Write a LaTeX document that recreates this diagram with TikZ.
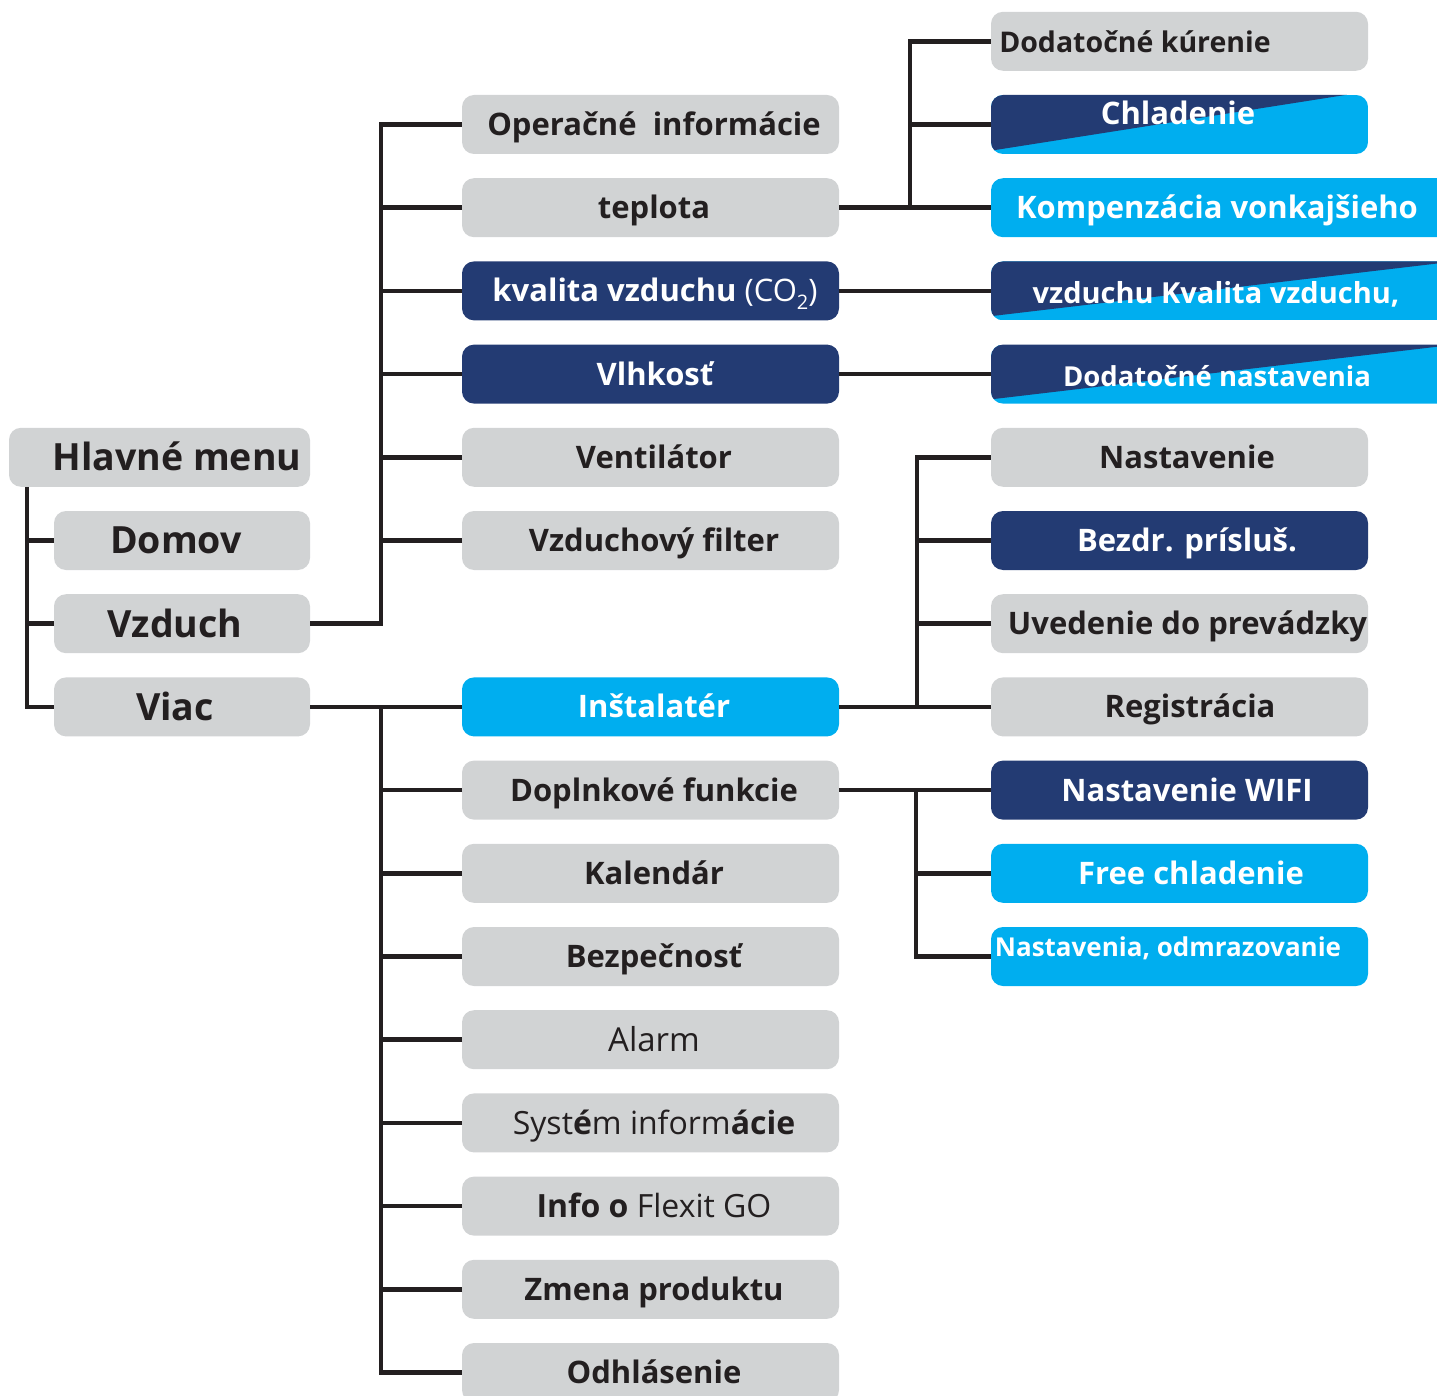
\documentclass[tikz,border=0pt]{standalone}
\usepackage{fontspec}
\setmainfont{Open Sans}
\usetikzlibrary{calc}
\definecolor{boxgray}{HTML}{D1D3D4}
\definecolor{navy}{HTML}{233B73}
\definecolor{cyanb}{HTML}{00AEEF}
\definecolor{linec}{HTML}{231F20}
\tikzset{
  conn/.style={draw=linec, line width=4.5pt},
  mbox/.style={rounded corners=12pt, minimum height=59pt, inner sep=0pt, outer sep=0pt},
  wmid/.style={mbox, minimum width=377pt},
  wright/.style={mbox, minimum width=377pt},
  wwide/.style={mbox, minimum width=469pt},
  wleft/.style={mbox, minimum width=256pt},
  gbox/.style={fill=boxgray},
  nbox/.style={fill=navy},
  cbox/.style={fill=cyanb},
  txt/.style={font=\bfseries\fontsize{#1}{#1}\selectfont, anchor=base, inner sep=0pt, yshift={-0.357*#1}},
  rtxt/.style={txt=#1, font=\mdseries\fontsize{#1}{#1}\selectfont},
  dk/.style={text=linec},
  wh/.style={text=white},
}
\newcommand\splitfill[3]{% node name, extra right reach, bottom lift
  \begin{scope}
    \clip[rounded corners=12pt] (#1.south west) rectangle (#1.north east);
    \fill[cyanb] (#1.south west) rectangle (#1.north east);
    \fill[navy] ($(#1.south west)+(-2,-#3)$) -- ($(#1.north west)+(-2,-2)$) -- ($(#1.north east)+(#2,-2)$) -- cycle;
  \end{scope}}
\begin{document}
\begin{tikzpicture}[x=1pt,y=-1pt]
\useasboundingbox (0,0) rectangle (1437,1396);
\clip (0,0) rectangle (1437,1396);

% ---- main menu column
\node[mbox, minimum width=301pt, gbox] (hm) at (159.5,457.3) {};
\node[wleft, gbox] (domov)  at (182,540.5) {};
\node[wleft, gbox] (vzduch) at (182,623.7) {};
\node[wleft, gbox] (viac)   at (182,706.9) {};

% ---- second level
\node[wmid, gbox] (opinf)   at (650.5,124.5) {};
\node[wmid, gbox] (teplota) at (650.5,207.7) {};
\node[wmid, nbox] (kval)    at (650.5,290.9) {};
\node[wmid, nbox] (vlhk)    at (650.5,374.1) {};
\node[wmid, gbox] (vent)    at (650.5,457.3) {};
\node[wmid, gbox] (filt)    at (650.5,540.5) {};
\node[wmid, cbox] (inst)    at (650.5,706.9) {};
\node[wmid, gbox] (dopl)    at (650.5,790.1) {};
\node[wmid, gbox] (kal)     at (650.5,873.3) {};
\node[wmid, gbox] (bezp)    at (650.5,956.5) {};
\node[wmid, gbox] (alarm)   at (650.5,1039.7) {};
\node[wmid, gbox] (sysinf)  at (650.5,1122.9) {};
\node[wmid, gbox] (info)    at (650.5,1206.1) {};
\node[wmid, gbox] (zmena)   at (650.5,1289.3) {};
\node[wmid, gbox] (odhl)    at (650.5,1372.5) {};

% ---- third level
\node[wright, gbox] (dkur)  at (1179.5,41.3) {};
\node[wright] (chlad)       at (1179.5,124.5) {};
\splitfill{chlad}{-10}{3}
\node[wwide, cbox] (komp)   at (1225.5,207.7) {};
\node[wwide] (vzk)          at (1225.5,290.9) {};
\splitfill{vzk}{12}{4}
\node[wwide] (dnast)        at (1225.5,374.1) {};
\splitfill{dnast}{12}{4}
\node[wright, gbox] (nast)  at (1179.5,457.3) {};
\node[wright, nbox] (bezdr) at (1179.5,540.5) {};
\node[wright, gbox] (uved)  at (1179.5,623.7) {};
\node[wright, gbox] (reg)   at (1179.5,706.9) {};
\node[wright, nbox] (wifi)  at (1179.5,790.1) {};
\node[wright, cbox] (free)  at (1179.5,873.3) {};
\node[wright, cbox] (odmr)  at (1179.5,956.5) {};

% ---- connectors
\coordinate (lb) at ($(hm.south west)+(18,0)$);
\draw[conn] (lb) |- (viac.west);
\draw[conn] (domov.west) -- (domov.west -| lb);
\draw[conn] (vzduch.west) -- (vzduch.west -| lb);

\coordinate (vb) at (381,0);
\draw[conn] (vzduch.east) -| (opinf.west -| vb) -- (opinf.west);
\foreach \n in {teplota,kval,vlhk,vent,filt}
  \draw[conn] (\n.west) -- (\n.west -| vb);
\draw[conn] (viac.east) -- (inst.west);
\draw[conn] (viac.east -| vb) |- (odhl.west);
\foreach \n in {dopl,kal,bezp,alarm,sysinf,info,zmena}
  \draw[conn] (\n.west) -- (\n.west -| vb);

\coordinate (tb) at (910,0);
\draw[conn] (teplota.east) -- (komp.west);
\draw[conn] (teplota.east -| tb) |- (dkur.west);
\draw[conn] (chlad.west) -- (chlad.west -| tb);
\draw[conn] (kval.east) -- (vzk.west);
\draw[conn] (vlhk.east) -- (dnast.west);

\coordinate (ib) at (917,0);
\draw[conn] (inst.east) -- (reg.west);
\draw[conn] (inst.east -| ib) |- (nast.west);
\foreach \n in {bezdr,uved}
  \draw[conn] (\n.west) -- (\n.west -| ib);

\coordinate (db) at (916,0);
\draw[conn] (dopl.east) -- (wifi.west);
\draw[conn] (dopl.east -| db) |- (odmr.west);
\draw[conn] (free.west) -- (free.west -| db);

% ---- labels
\node[txt=37.5, dk] (t-hm) at (177,457.3) {Hlavné menu};
\node[txt=37.5, dk] (t-domov) at (176,540.5) {Domov};
\node[txt=37.5, dk] (t-vzduch) at (175,623.7) {Vzduch};
\node[txt=37.5, dk] (t-viac) at (175,706.9) {Viac};

\node[txt=31, dk] (t-opinf) at (654,124.5) {Operačné\ \ informácie};
\node[txt=31, dk] (t-tepl) at (654,207.7) {teplota};
\node[txt=31, wh] (t-kval) at (655,290.9) {kvalita vzduchu \mdseries(CO\raisebox{-8pt}{\fontsize{20}{20}\selectfont 2})};
\node[txt=31, wh] (t-vlhk) at (655,374.1) {Vlhkosť};
\node[txt=31, dk] (t-vent) at (654,457.3) {Ventilátor};
\node[txt=31, dk] (t-filt) at (654,540.5) {Vzduchový filter};
\node[txt=31, wh] (t-inst) at (654,706.9) {Inštalatér};
\node[txt=31, dk] (t-dopl) at (654,790.1) {Doplnkové funkcie};
\node[txt=31, dk] (t-kal) at (654,873.3) {Kalendár};
\node[txt=31, dk] (t-bezp) at (654,956.5) {Bezpečnosť};
\node[rtxt=33, dk] (t-alarm) at (654,1039.7) {Alarm};
\node[rtxt=32, dk] (t-sys) at (654,1122.9) {Syst\textbf{é}m inform\textbf{ácie}};
\node[txt=32, dk] (t-info) at (654,1206.1) {Info o \mdseries Flexit GO};
\node[txt=31, dk] (t-zmena) at (654,1289.3) {Zmena produktu};
\node[txt=31, dk] (t-odhl) at (654,1372.5) {Odhlásenie};

\node[txt=28.5, dk] (t-dkur) at (1135,42.5) {Dodatočné kúrenie};
\node[txt=31, wh] (t-chlad) at (1178,113.5) {Chladenie};
\node[txt=31, wh] (t-komp) at (1217,207.7) {Kompenzácia vonkajšieho};
\node[txt=29, wh] (t-vzk) at (1216,293) {vzduchu Kvalita vzduchu,};
\node[txt=27.5, wh] (t-dnast) at (1217,377) {Dodatočné nastavenia};
\node[txt=31, dk] (t-nast) at (1187,457.3) {Nastavenie};
\node[txt=31, wh] (t-bezdr) at (1187,540.5) {Bezdr. prísluš.};
\node[txt=31, dk] (t-uved) at (1187.5,623.7) {Uvedenie do prevádzky};
\node[txt=31, dk] (t-reg) at (1190,706.9) {Registrácia};
\node[txt=31, wh] (t-wifi) at (1187,790.1) {Nastavenie WIFI};
\node[txt=31, wh] (t-free) at (1191,873.3) {Free chladenie};
\node[txt=26, wh] (t-odmr) at (1168,947) {Nastavenia, odmrazovanie};
\end{tikzpicture}
\end{document}
